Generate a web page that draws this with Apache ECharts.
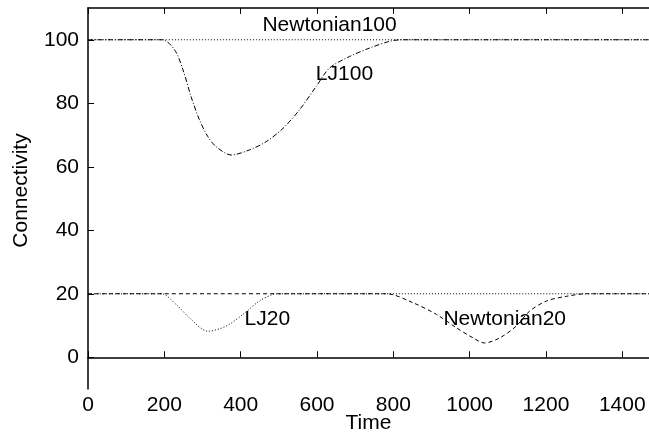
<!DOCTYPE html>
<html>
<head>
<meta charset="utf-8">
<script src="https://cdn.jsdelivr.net/npm/echarts@6/dist/echarts.min.js"></script>
<style>
  html, body { margin: 0; padding: 0; background: #fff; }
  #chart { width: 649px; height: 434px; }
</style>
</head>
<body>
<div id="chart"></div>
<script>
  // values
  const xTicks = [0, 200, 400, 600, 800, 1000, 1200, 1400]
  const yTicks = [0, 20, 40, 60, 80, 100]

  const newton100Time = [0, 1470]
  const newton100Val = [100, 100]

  const lj100Time = [0, 194, 227, 249, 270, 292, 314, 336, 375, 423, 467, 511, 554, 598, 633, 685, 738, 790, 820, 1470]
  const lj100Val = [100, 100, 96.8, 90.5, 82.1, 74.8, 69.5, 66.3, 63.7, 65.3, 67.9, 72.1, 77.9, 85.3, 91.1, 94.7, 97.4, 99.5, 100, 100]

  const lj20Time = [0, 192, 231, 266, 314, 362, 406, 449, 484, 500, 1470]
  const lj20Val = [20, 20, 16.6, 12.4, 8.2, 9.8, 13.5, 17.7, 19.8, 20, 20]

  const newton20Time = [0, 782, 851, 913, 965, 1009, 1039, 1079, 1122, 1157, 1201, 1254, 1306, 1470]
  const newton20Val = [20, 20, 17.2, 13.5, 9.3, 6.1, 4.5, 6.1, 9.8, 14.5, 17.7, 19.2, 20, 20]

  // curve names, placed in data coordinates
  const labelNames = ['Newtonian100', 'LJ100', 'LJ20', 'Newtonian20']
  const labelTime = [633, 672, 470, 1092]
  const labelVal = [104.7, 89, 11.9, 11.9]

  const zip = (xs, ys) => xs.map((x, i) => [x, ys[i]])
  const font = 'Liberation Sans, Arial, Helvetica, sans-serif'
  const fs = 21

  const lineSeries = (name, xs, ys, dash) => ({
    name: name,
    type: 'line',
    data: zip(xs, ys),
    smooth: 0.3,
    showSymbol: false,
    silent: true,
    lineStyle: { color: '#000', width: 1, type: dash }
  })

  const chart = echarts.init(document.getElementById('chart'))
  chart.setOption({
    animation: false,
    backgroundColor: '#fff',
    grid: { left: 88, top: 8, right: 0, bottom: 45, outerBoundsMode: 'none', containLabel: false },
    xAxis: [{
      type: 'value',
      min: 0,
      max: 1470,
      name: 'Time',
      nameLocation: 'middle',
      nameGap: 24,
      nameMoveOverlap: false,
      nameTextStyle: { color: '#000', fontSize: fs, fontFamily: font },
      axisLine: { lineStyle: { color: '#000', width: 1.5 } },
      axisTick: { inside: true, length: 6, customValues: xTicks, lineStyle: { color: '#000' } },
      axisLabel: { customValues: xTicks, formatter: v => String(v), color: '#000', fontSize: fs, fontFamily: font, margin: 6 },
      splitLine: { show: false }
    }, {
      type: 'value',
      position: 'top',
      min: 0,
      max: 1470,
      axisLine: { lineStyle: { color: '#000', width: 1.5 } },
      axisTick: { inside: true, length: 6, customValues: xTicks, lineStyle: { color: '#000' } },
      axisLabel: { show: false },
      splitLine: { show: false }
    }],
    yAxis: {
      type: 'value',
      min: -10,
      max: 110,
      name: 'Connectivity',
      nameLocation: 'middle',
      nameGap: 56,
      nameMoveOverlap: false,
      nameTextStyle: { color: '#000', fontSize: fs, fontFamily: font, padding: [0, 0, 0, 16] },
      axisLine: { show: true, lineStyle: { color: '#000', width: 1.5 } },
      axisTick: { show: true, inside: true, length: 6, customValues: yTicks, lineStyle: { color: '#000' } },
      axisLabel: { customValues: yTicks, formatter: v => String(v), color: '#000', fontSize: fs, fontFamily: font, margin: 9 },
      splitLine: { show: false }
    },
    series: [
      lineSeries('Newtonian100', newton100Time, newton100Val, [1, 2]),
      lineSeries('LJ100', lj100Time, lj100Val, [5, 2, 1, 2]),
      lineSeries('LJ20', lj20Time, lj20Val, [1, 2]),
      lineSeries('Newtonian20', newton20Time, newton20Val, [4, 3]),
      {
        type: 'scatter',
        symbolSize: 0,
        silent: true,
        itemStyle: { opacity: 1 },
        data: labelNames.map((n, i) => ({ name: n, value: [labelTime[i], labelVal[i]] })),
        label: {
          show: true,
          position: 'inside',
          formatter: p => p.name,
          color: '#000',
          opacity: 1,
          fontSize: fs,
          fontFamily: font
        }
      }
    ]
  })
</script>
</body>
</html>
